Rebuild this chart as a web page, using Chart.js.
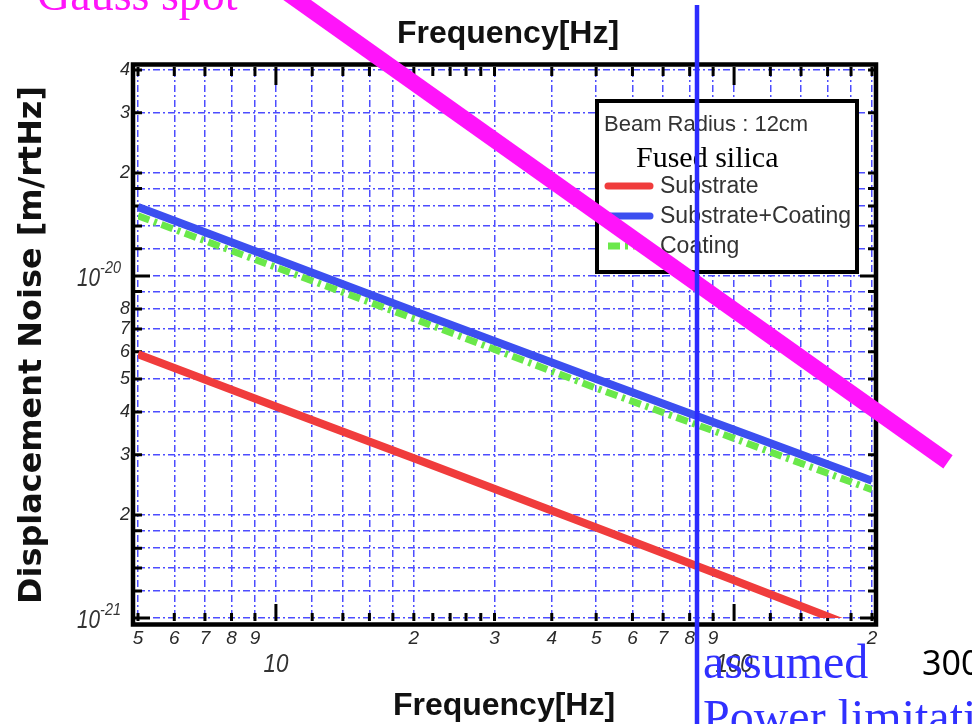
<!DOCTYPE html>
<html>
<head>
<meta charset="utf-8">
<script src="https://cdn.jsdelivr.net/npm/chart.js@4.4.1/dist/chart.umd.min.js"></script>
<style>
  html, body { margin: 0; padding: 0; background: #fff; }
  #wrap { width: 972px; height: 724px; position: relative; }
</style>
</head>
<body>
<div id="wrap"><canvas id="noiseChart"></canvas></div>
<script>
// frequency [Hz] and displacement noise [m/rtHz]
const freqs = [5, 10, 20, 50, 100, 200];
const substrate = [5.9e-21, 4.15e-21, 2.93e-21, 1.84e-21, 1.29e-21, 0.90e-21];
const substrateCoating = [1.59e-20, 1.12e-20, 7.9e-21, 5.0e-21, 3.55e-21, 2.52e-21];
const coating = [1.50e-20, 1.06e-20, 7.5e-21, 4.7e-21, 3.35e-21, 2.37e-21];

// lines drawn over the slide
const gaussFreqs = [9.7, 293];
const gaussValues = [7.3e-20, 2.86e-21];
const powerFreqs = [83, 83];
const powerValues = [6.2e-20, 4.0e-22];

// axes
const xTicks = [5, 6, 7, 8, 9, 10, 12, 14, 16, 18, 20, 30, 40, 50, 60, 70, 80, 90, 100, 120, 140, 160, 180, 200];
const xTickLabels = ['5', '6', '7', '8', '9', '', '', '', '', '', '2', '3', '4', '5', '6', '7', '8', '9', '', '', '', '', '', '2'];
const xExtraMarks = [22, 24, 26, 28];
const xDecades = [10, 100];
const xDecadeLabels = ['10', '100'];
const yTicks = [1e-21, 1.2e-21, 1.4e-21, 1.6e-21, 1.8e-21, 2e-21, 3e-21, 4e-21, 5e-21, 6e-21, 7e-21, 8e-21, 9e-21,
                1e-20, 1.2e-20, 1.4e-20, 1.6e-20, 1.8e-20, 2e-20, 3e-20, 4e-20];
const yTickLabels = ['', '', '', '', '', '2', '3', '4', '5', '6', '7', '8', '', '', '', '', '', '', '2', '3', '4'];
const yDecades = [1e-21, 1e-20];
const yDecadeExps = ['-21', '-20'];

function pts(xs, ys) {
    return xs.map((x, i) => ({ x: x, y: ys[i] }));
}

function drawText(ctx, str, x, y, o) {
    ctx.save();
    ctx.font = o.font;
    ctx.fillStyle = o.color || '#000';
    ctx.textBaseline = 'alphabetic';
    ctx.textAlign = o.align || 'left';
    let sx = o.sx || 1;
    if (o.length) sx = o.length / ctx.measureText(str).width;
    ctx.translate(x, y);
    if (o.rotate) ctx.rotate(o.rotate);
    ctx.scale(sx, 1);
    ctx.fillText(str, 0, 0);
    const w = ctx.measureText(str).width * sx;
    ctx.restore();
    return w;
}

const decorations = {
    id: 'decorations',
    beforeDatasetsDraw(chart) {
        const { ctx, chartArea: a, scales } = chart;
        const x = scales.x, y = scales.y;
        ctx.save();

        // inward tick marks
        ctx.strokeStyle = '#000';
        ctx.lineWidth = 3;
        ctx.beginPath();
        yTicks.forEach(v => {
            const py = y.getPixelForValue(v);
            const len = yDecades.includes(v) ? 12 : 4;
            ctx.moveTo(a.left - 3, py); ctx.lineTo(a.left + len, py);
            ctx.moveTo(a.right + 3, py); ctx.lineTo(a.right - len, py);
        });
        xTicks.concat(xExtraMarks).forEach(v => {
            const px = x.getPixelForValue(v);
            const len = xDecades.includes(v) ? 14 : 5;
            ctx.moveTo(px, a.bottom + 3); ctx.lineTo(px, a.bottom - len);
            ctx.moveTo(px, a.top - 3); ctx.lineTo(px, a.top + len + 1);
        });
        ctx.stroke();

        // axes box
        ctx.lineWidth = 4.5;
        ctx.strokeRect(a.left - 5, a.top - 5.5, a.right - a.left + 9, a.bottom - a.top + 12);

        // decade labels
        xDecades.forEach((v, i) => {
            drawText(ctx, xDecadeLabels[i], x.getPixelForValue(v), 672,
                { font: 'italic 26px "Liberation Sans", Arial, sans-serif', color: '#333', align: 'center', sx: 0.86 });
        });
        yDecades.forEach((v, i) => {
            const py = y.getPixelForValue(v);
            const ew = drawText(ctx, yDecadeExps[i], 121, py - 3,
                { font: 'italic 17px "Liberation Sans", Arial, sans-serif', color: '#333', align: 'right', sx: 0.85 });
            drawText(ctx, '10', 121 - ew, py + 10,
                { font: 'italic 26px "Liberation Sans", Arial, sans-serif', color: '#333', align: 'right', sx: 0.8 });
        });

        // axis titles
        const titleFont = 'bold 32px "Liberation Sans", Arial, sans-serif';
        drawText(ctx, 'Frequency[Hz]', 508, 43, { font: titleFont, color: '#111', align: 'center' });
        drawText(ctx, 'Frequency[Hz]', 504, 715, { font: titleFont, color: '#111', align: 'center' });
        drawText(ctx, 'Displacement Noise [m/rtHz]', 41, 345,
            { font: 'bold 32px "DejaVu Sans", sans-serif', color: '#111', align: 'center', rotate: -Math.PI / 2, length: 518 });

        // legend
        ctx.fillStyle = '#fff';
        ctx.fillRect(597, 101, 260, 171);
        ctx.lineWidth = 4;
        ctx.strokeStyle = '#000';
        ctx.strokeRect(597, 101, 260, 171);
        drawText(ctx, 'Beam Radius : 12cm', 604, 131, { font: '22px "Liberation Sans", Arial, sans-serif', color: '#333' });
        drawText(ctx, 'Fused silica', 636, 167, { font: '30px "Liberation Serif", "Times New Roman", serif', color: '#000' });
        const rows = [186, 216, 246];
        chart.data.datasets.slice(0, 3).forEach((ds, i) => {
            ctx.save();
            ctx.strokeStyle = ds.borderColor;
            ctx.lineWidth = 7;
            ctx.lineCap = ds.borderDash ? 'butt' : 'round';
            ctx.setLineDash(ds.borderDash || []);
            ctx.beginPath();
            ctx.moveTo(608, rows[i]);
            ctx.lineTo(650, rows[i]);
            ctx.stroke();
            ctx.restore();
            drawText(ctx, ds.label, 660, rows[i] + 7, { font: '23px "Liberation Sans", Arial, sans-serif', color: '#333' });
        });
        ctx.restore();
    },
    afterDraw(chart) {
        const ctx = chart.ctx;
        const serif = '"Liberation Serif", "Times New Roman", serif';
        drawText(ctx, 'Gauss spot', 37, 10, { font: '46px ' + serif, color: '#ff14fa' });
        drawText(ctx, 'assumed', 703, 678, { font: '48px ' + serif, color: '#3030ff' });
        drawText(ctx, 'Power limitation', 703, 733, { font: '48px ' + serif, color: '#3030ff' });
        drawText(ctx, '300', 922, 675, { font: '34px "Noto Sans", sans-serif', color: '#000' });
    }
};

const ctx = document.getElementById('noiseChart').getContext('2d');
const gridDash = [7, 3, 2, 3];

new Chart(ctx, {
    type: 'line',
    data: {
        datasets: [
            { label: 'Substrate', data: pts(freqs, substrate), borderColor: '#f03c3c', borderWidth: 8, order: 5 },
            { label: 'Substrate+Coating', data: pts(freqs, substrateCoating), borderColor: '#3c4ff0', borderWidth: 8, order: 4 },
            { label: 'Coating', data: pts(freqs, coating), borderColor: '#6ae84a', borderWidth: 7, borderDash: [12, 5, 3, 5], order: 3 },
            { label: 'Gauss spot', data: pts(gaussFreqs, gaussValues), borderColor: '#ff14fa', borderWidth: 16, clip: false, order: 1 },
            { label: 'Power limitation', data: pts(powerFreqs, powerValues), borderColor: '#2c2cff', borderWidth: 4.5, clip: false, order: 0 }
        ]
    },
    options: {
        responsive: true,
        maintainAspectRatio: false,
        animation: false,
        events: [],
        elements: { point: { radius: 0 }, line: { tension: 0, borderCapStyle: 'butt' } },
        layout: { padding: { left: 0, top: 70, right: 100, bottom: 0 } },
        plugins: { legend: { display: false }, tooltip: { enabled: false } },
        scales: {
            x: {
                type: 'logarithmic',
                min: 5,
                max: 200,
                afterBuildTicks: s => { s.ticks = xTicks.map(v => ({ value: v })); },
                afterFit: s => { s.height = 106; },
                grid: { color: '#4d4dff', lineWidth: 1.5, drawTicks: false },
                border: { display: false, dash: gridDash },
                ticks: {
                    autoSkip: false, maxRotation: 0, minRotation: 0, padding: 9,
                    color: '#2a2a2a',
                    font: { family: '"Liberation Sans", Arial, sans-serif', size: 19, style: 'italic' },
                    callback: (v, i) => xTickLabels[i]
                }
            },
            y: {
                type: 'logarithmic',
                min: 1e-21,
                max: 4e-20,
                afterBuildTicks: s => { s.ticks = yTicks.map(v => ({ value: v })); },
                afterFit: s => { s.width = 138; },
                grid: { color: '#4d4dff', lineWidth: 1.5, drawTicks: false },
                border: { display: false, dash: gridDash },
                ticks: {
                    autoSkip: false, padding: 8,
                    color: '#2a2a2a',
                    font: { family: '"Liberation Sans", Arial, sans-serif', size: 18, style: 'italic' },
                    callback: (v, i) => yTickLabels[i]
                }
            }
        }
    },
    plugins: [decorations]
});
</script>
</body>
</html>
